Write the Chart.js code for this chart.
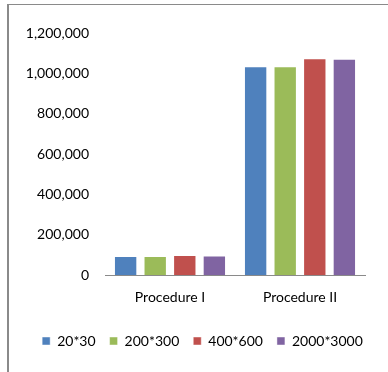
<!DOCTYPE html>
<html>
<head>
<meta charset="utf-8">
<script src="https://cdn.jsdelivr.net/npm/chart.js@4"></script>
<style>
    body { margin: 0; background: #fff; }
    #frame {
        position: absolute; left: 7px; top: 4px; width: 400px; height: 400px;
        border-top: 1px solid #8a8a8a; border-left: 2px solid #8a8a8a;
    }
    #wrap { position: absolute; left: 0; top: 0; width: 388px; height: 372px; }
</style>
</head>
<body>
<div id="frame"></div>
<div id="wrap"><canvas id="procedures"></canvas></div>
<script>
let categories = ["Procedure I", "Procedure II"]
let series_names = ["20*30", "200*300", "400*600", "2000*3000"]
let series_colors = ["#4f81bd", "#9bbb59", "#c0504d", "#8064a2"]
let values_20x30 = [95000, 1035000]
let values_200x300 = [95000, 1035000]
let values_400x600 = [100000, 1075000]
let values_2000x3000 = [98000, 1072000]
let y_max = 1200000
let y_step = 200000

let all_values = [values_20x30, values_200x300, values_400x600, values_2000x3000]

let datasets = []
for (let i = 0; i < series_names.length; i++) {
    datasets.push({
        label: series_names[i],
        data: all_values[i],
        backgroundColor: series_colors[i],
        borderColor: "rgba(255, 255, 255, 0.45)",
        borderWidth: 1,
        categoryPercentage: 0.91,
        barPercentage: 0.79
    })
}

// Legend sits a bit right of the canvas centre, under the plot
let legend_nudge = {
    id: "legend_nudge",
    afterLayout: function (chart) {
        chart.legend.left += 20
        chart.legend.right += 20
    }
}

Chart.defaults.font.family = "Lato"
Chart.defaults.font.size = 14
Chart.defaults.color = "#000"

new Chart("procedures", {
    type: "bar",
    data: {
        labels: categories,
        datasets: datasets
    },
    plugins: [legend_nudge],
    options: {
        responsive: true,
        maintainAspectRatio: false,
        animation: false,
        layout: {
            padding: {left: 0, right: 23, top: 33, bottom: 14}
        },
        plugins: {
            legend: {
                position: "bottom",
                labels: {
                    boxWidth: 8,
                    boxHeight: 8,
                    padding: 14
                }
            },
            tooltip: {enabled: false}
        },
        scales: {
            x: {
                grid: {display: false, drawTicks: false},
                border: {display: true, color: "#8a8a8a", width: 1},
                ticks: {padding: 14}
            },
            y: {
                min: 0,
                max: y_max,
                grid: {display: false, drawTicks: false},
                border: {display: false},
                ticks: {
                    stepSize: y_step,
                    padding: 16,
                    callback: function (value) {
                        return value.toLocaleString("en-US")
                    }
                },
                afterFit: function (scale) {
                    scale.width = 105
                }
            }
        }
    }
})
</script>
</body>
</html>
